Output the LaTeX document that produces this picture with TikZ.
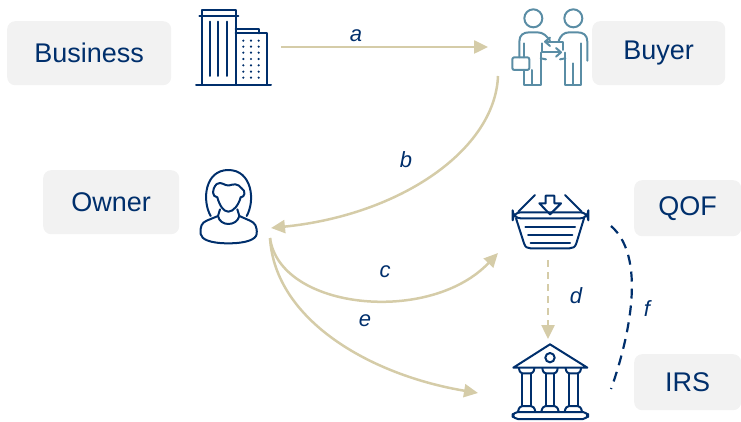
\documentclass[tikz,border=0pt]{standalone}
\usepackage{fontspec}
\usepackage{xcolor}
\setmainfont{Liberation Sans}
\usetikzlibrary{arrows.meta}
\definecolor{navy}{HTML}{002F6C}
\definecolor{tealblue}{HTML}{5A8DA5}
\definecolor{sand}{HTML}{D5CCA8}
\definecolor{boxgray}{HTML}{F2F2F2}
\begin{document}
\begin{tikzpicture}[x=1pt,y=-1pt]
\tikzstyle{tag}=[fill=boxgray,rounded corners=8pt,text=navy,font=\fontsize{27}{32}\selectfont,inner sep=0pt,anchor=north west]
\tikzstyle{letter}=[text=navy,font=\fontsize{22}{26}\selectfont\itshape,inner sep=0pt]
\tikzstyle{flow}=[draw=sand,line width=2.5pt,-{Triangle[length=14pt,width=13pt]}]
\tikzstyle{icon}=[draw=navy,line width=2pt,line join=round,line cap=round]
\tikzstyle{person}=[draw=tealblue,line width=2pt,line join=round,line cap=round]
\useasboundingbox (0,0) rectangle (741,422);
% labels
\node[tag,minimum width=164pt,minimum height=64pt] (business) at (7,21) {Business};
\node[tag,minimum width=133pt,minimum height=64pt] (buyer) at (592,21) {Buyer};
\node[tag,minimum width=136pt,minimum height=64pt] (owner) at (43,170) {Owner};
\node[tag,minimum width=107pt,minimum height=56pt] (qof) at (634,180) {QOF};
\node[tag,minimum width=107pt,minimum height=56pt] (irs) at (634,354) {IRS};
% building
\begin{scope}[shift={(180,0)},scale=1/3]
\draw[icon] (65,255) -- (65,30) -- (167,30) -- (167,255);
\draw[icon] (58,48) -- (175,48);
\draw[icon] (48,255) -- (273,255);
\foreach \x in {89,115,141} \draw[icon] (\x,65) -- (\x,228);
\draw[icon] (167,87) -- (237,87) -- (237,100);
\draw[icon] (167,100) -- (260,100) -- (260,255);
\foreach \x in {190,213,236} \foreach \y in {122,140,158,177,196,215,233}
  \fill[navy] (\x,\y) circle (3.6);
\end{scope}
% buyer and seller
\begin{scope}[shift={(490,0)},scale=1/3]
\draw[person] (130,55) circle (27);
\draw[person] (250,55) circle (27);
\draw[person] (88,172) -- (88,125) .. controls (88,105) and (100,97) .. (118,97) -- (142,97) .. controls (160,97) and (170,108) .. (180,122);
\draw[person] (292,182) -- (292,125) .. controls (292,105) and (280,97) .. (262,97) -- (238,97) .. controls (220,97) and (212,108) .. (206,122);
\draw[person] (102,130) -- (102,172);
\draw[person] (102,210) -- (102,255) -- (152,255) -- (152,158);
\draw[person] (127,210) -- (127,255);
\draw[person] (152,175) -- (168,178);
\draw[person] (226,158) -- (226,255) -- (274,255) -- (274,130);
\draw[person] (250,190) -- (250,255);
\draw[person] (226,175) -- (210,178);
\draw[person,rounded corners=2pt] (67,172) rectangle (118,210);
\draw[person] (220,150) -- (220,125) -- (168,125);
\draw[person] (180,113) -- (165,125) -- (180,138);
\draw[person] (157,130) -- (157,157) -- (210,157);
\draw[person] (198,144) -- (213,157) -- (198,170);
\end{scope}
% owner
\begin{scope}[shift={(190,160)},scale=1/3]
\draw[icon] (62,168) .. controls (35,120) and (45,30) .. (115,30) .. controls (185,30) and (197,120) .. (170,168);
\draw[icon] (80,72) .. controls (95,62) and (105,80) .. (118,76) .. controls (130,72) and (145,70) .. (155,85) .. controls (168,92) and (165,112) .. (152,112) .. controls (146,135) and (130,155) .. (115,155) .. controls (100,155) and (88,135) .. (82,112) .. controls (65,110) and (65,88) .. (80,72);
\draw[icon] (90,148) -- (84,168) .. controls (90,200) and (140,200) .. (148,168) -- (142,148);
\draw[icon] (84,168) -- (50,182) .. controls (35,188) and (30,200) .. (32,222) .. controls (34,238) and (60,250) .. (115,250) .. controls (170,250) and (198,238) .. (200,222) .. controls (202,200) and (195,188) .. (180,182) -- (148,168);
\end{scope}
% basket
\begin{scope}[shift={(500,185)},scale=1/3]
\draw[icon,rounded corners=8pt] (38,82) rectangle (265,100);
\draw[icon] (48,100) -- (72,175) .. controls (76,187) and (82,190) .. (92,190) -- (208,190) .. controls (218,190) and (225,187) .. (229,175) -- (252,100);
\draw[icon] (76,125) -- (225,125);
\draw[icon] (84,150) -- (217,150);
\draw[icon] (92,175) -- (210,175);
\draw[icon] (55,80) -- (105,30);
\draw[icon] (195,30) -- (245,80);
\draw[icon] (137,32) -- (163,32) -- (163,55) -- (183,55) -- (150,88) -- (118,55) -- (137,55) -- cycle;
\end{scope}
% bank
\begin{scope}[shift={(500,335)},scale=1/3]
\draw[icon] (40,98) -- (150,28) -- (262,98) -- cycle;
\draw[icon] (150,68) circle (14);
\foreach \x in {80,150,220} {
  \draw[icon] (\x-23,100) .. controls (\x-22,112) and (\x-15,115) .. (\x-13,115) -- (\x+13,115) .. controls (\x+15,115) and (\x+22,112) .. (\x+23,100);
  \draw[icon] (\x-13,115) -- (\x-13,213);
  \draw[icon] (\x+13,115) -- (\x+13,213);
  \draw[icon] (\x-26,230) .. controls (\x-24,218) and (\x-18,213) .. (\x-13,213) -- (\x+13,213) .. controls (\x+18,213) and (\x+24,218) .. (\x+26,230);
}
\draw[icon,rounded corners=5pt] (38,231) rectangle (264,252);
\end{scope}
% connectors
\coordinate (aout) at (281,47);
\coordinate (ain) at (488,47);
\coordinate (bout) at (498,76);
\coordinate (bin) at (271,228);
\coordinate (cout) at (270,238);
\coordinate (cin) at (498,253);
\coordinate (dout) at (548,260);
\coordinate (din) at (548,339);
\coordinate (ein) at (478,393);
\coordinate (fout) at (611,226);
\coordinate (fin) at (611,389);
\draw[flow] (aout) -- (ain);
\draw[flow] (bout) .. controls (495,150) and (400,215) .. (bin);
\draw[flow] (cout) .. controls (280,310) and (430,325) .. (cin);
\draw[flow,dashed,dash pattern=on 7pt off 5pt] (dout) -- (din);
\draw[flow] (cout) .. controls (275,320) and (370,375) .. (ein);
\draw[navy,line width=2.2pt,dash pattern=on 10pt off 7pt] (fout) .. controls (650,260) and (625,350) .. (fin);
\node[letter] (a) at (356,36) {a};
\node[letter] (b) at (406,160) {b};
\node[letter] (c) at (385,272) {c};
\node[letter] (d) at (576,296) {d};
\node[letter] (e) at (365,321) {e};
\node[letter] (f) at (647,309) {f};
\end{tikzpicture}
\end{document}
